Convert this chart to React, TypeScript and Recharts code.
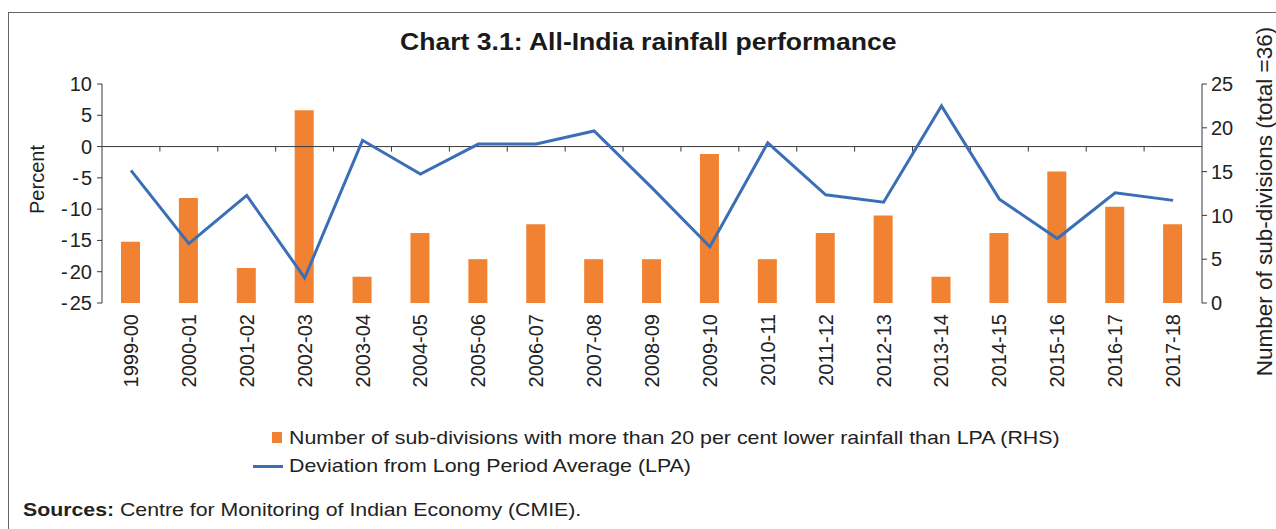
import React from 'react';
import { ComposedChart, Bar, Line, XAxis, YAxis, ReferenceLine } from 'recharts';

const years = [
  '1999-00', '2000-01', '2001-02', '2002-03', '2003-04', '2004-05', '2005-06',
  '2006-07', '2007-08', '2008-09', '2009-10', '2010-11', '2011-12', '2012-13',
  '2013-14', '2014-15', '2015-16', '2016-17', '2017-18',
];
// sub-divisions with >20% deficient rainfall (RHS)
const deficientSubDivs = [7, 12, 4, 22, 3, 8, 5, 9, 5, 5, 17, 5, 8, 10, 3, 8, 15, 11, 9];
// deviation from LPA, per cent (LHS)
const lpaDeviation = [
  -3.8, -15.5, -7.8, -21, 1, -4.4, 0.4, 0.4, 2.5, -6.6, -16, 0.6, -7.7, -8.9, 6.5,
  -8.4, -14.7, -7.4, -8.6,
];
const leftTicks = [-25, -20, -15, -10, -5, 0, 5, 10];
const rightTicks = [0, 5, 10, 15, 20, 25];

const FONT = '"Liberation Sans", Arial, Helvetica, sans-serif';
const ORANGE = '#F08232';
const BLUE = '#3A6FB7';
const AXIS = '#3a3a3a';
const TEXT = '#222';

const chartData = years.map((year, i) => ({
  year,
  subDivs: deficientSubDivs[i],
  deviation: lpaDeviation[i],
}));

const tickStyle = { fill: TEXT, fontSize: 20, fontFamily: FONT };

function YearTick({ x, y, payload }: any) {
  return (
    <text
      x={x}
      y={y}
      transform={`rotate(-90 ${x} ${y})`}
      textAnchor="end"
      dominantBaseline="central"
      fill={TEXT}
      fontSize={20}
      fontFamily={FONT}
    >
      {payload.value}
    </text>
  );
}

// left axis labels: the minus sign sits a little apart from the digits
function PercentTick({ x, y, payload }: any) {
  const v = payload.value as number;
  return (
    <text x={x} y={y} textAnchor="end" dominantBaseline="central" fill={TEXT} fontSize={20} fontFamily={FONT}>
      {v < 0 ? (
        <>
          <tspan>-</tspan>
          <tspan dx={2}>{Math.abs(v)}</tspan>
        </>
      ) : (
        v
      )}
    </text>
  );
}

// zero line with small tick marks at the category boundaries
function ZeroLine(props: any) {
  const { x1, x2, y1 } = props;
  const step = (x2 - x1) / years.length;
  return (
    <g>
      <line x1={x1} x2={x2} y1={y1} y2={y1} stroke={AXIS} strokeWidth={1} />
      {years.slice(1).map((_, i) => {
        const tx = x1 + step * (i + 1);
        return <line key={i} x1={tx} x2={tx} y1={y1} y2={y1 + 5} stroke={AXIS} strokeWidth={1} />;
      })}
    </g>
  );
}

const wide = (s: number): React.CSSProperties => ({
  display: 'inline-block',
  transform: `scaleX(${s})`,
  transformOrigin: 'left center',
  whiteSpace: 'nowrap',
});

export default function App() {
  return (
    <div
      style={{
        position: 'absolute',
        left: 0,
        top: 0,
        width: 1276,
        height: 529,
        background: '#fff',
        fontFamily: FONT,
        overflow: 'hidden',
      }}
    >
      <div
        style={{
          position: 'absolute',
          left: 8,
          top: 12,
          right: 0,
          bottom: 0,
          borderTop: '1.5px solid #666',
          borderLeft: '1.5px solid #666',
        }}
      />
      <div
        style={{
          position: 'absolute',
          left: 0,
          width: 1296,
          top: 28,
          textAlign: 'center',
          fontSize: 24,
          fontWeight: 'bold',
          color: '#1a1a1a',
        }}
      >
        <span style={{ ...wide(1.107), transformOrigin: 'center center' }}>
          Chart 3.1: All-India rainfall performance
        </span>
      </div>

      <div style={{ position: 'absolute', left: 0, top: 0 }}>
        <ComposedChart
          width={1276}
          height={420}
          data={chartData}
          margin={{ top: 84, right: 4, bottom: 17, left: 2 }}
          barCategoryGap={0}
        >
          <XAxis
            dataKey="year"
            interval={0}
            axisLine={false}
            tickLine={false}
            tickSize={0}
            tickMargin={11}
            height={100}
            tick={<YearTick />}
          />
          <YAxis
            yAxisId="left"
            domain={[-25, 10]}
            ticks={leftTicks}
            width={100}
            tickSize={5}
            tickMargin={5}
            stroke={AXIS}
            tick={<PercentTick />}
            label={{
              content: ({ viewBox }: any) => {
                const cx = viewBox.x + 35;
                const cy = viewBox.y + viewBox.height / 2 - 14;
                return (
                  <text
                    x={cx}
                    y={cy}
                    transform={`rotate(-90 ${cx} ${cy})`}
                    textAnchor="middle"
                    dominantBaseline="central"
                    fill={TEXT}
                    fontSize={20}
                    fontFamily={FONT}
                  >
                    Percent
                  </text>
                );
              },
            }}
          />
          <YAxis
            yAxisId="right"
            orientation="right"
            domain={[0, 25]}
            ticks={rightTicks}
            width={70}
            tickSize={5}
            tickMargin={4}
            stroke={AXIS}
            tick={tickStyle}
            label={{
              content: ({ viewBox }: any) => {
                const cx = viewBox.x + 62;
                const cy = viewBox.y + viewBox.height / 2 + 8;
                return (
                  <text
                    x={cx}
                    y={cy}
                    transform={`rotate(-90 ${cx} ${cy})`}
                    textAnchor="middle"
                    dominantBaseline="central"
                    fill={TEXT}
                    fontSize={22.5}
                    fontFamily={FONT}
                  >
                    Number of sub-divisions (total =36)
                  </text>
                );
              },
            }}
          />
          <ReferenceLine yAxisId="left" y={0} shape={<ZeroLine />} />
          <Bar
            yAxisId="right"
            dataKey="subDivs"
            fill={ORANGE}
            barSize={19}
            isAnimationActive={false}
          />
          <Line
            yAxisId="left"
            type="linear"
            dataKey="deviation"
            stroke={BLUE}
            strokeWidth={3}
            dot={false}
            activeDot={false}
            isAnimationActive={false}
          />
        </ComposedChart>
      </div>

      <div style={{ position: 'absolute', left: 253, top: 424, fontSize: 19, color: TEXT }}>
        <div style={{ display: 'flex', alignItems: 'center', height: 27 }}>
          <span style={{ width: 19 }} />
          <span style={{ width: 10, height: 11, background: ORANGE, marginRight: 7 }} />
          <span style={wide(1.125)}>
            Number of sub-divisions with more than 20 per cent lower rainfall than LPA (RHS)
          </span>
        </div>
        <div style={{ display: 'flex', alignItems: 'center', height: 30 }}>
          <span style={{ width: 30, height: 3, background: BLUE, marginRight: 6 }} />
          <span style={wide(1.125)}>Deviation from Long Period Average (LPA)</span>
        </div>
      </div>

      <div style={{ position: 'absolute', left: 23, top: 499, fontSize: 19, color: TEXT }}>
        <span style={wide(1.12)}>
          <b>Sources:</b> Centre for Monitoring of Indian Economy (CMIE).
        </span>
      </div>
    </div>
  );
}
